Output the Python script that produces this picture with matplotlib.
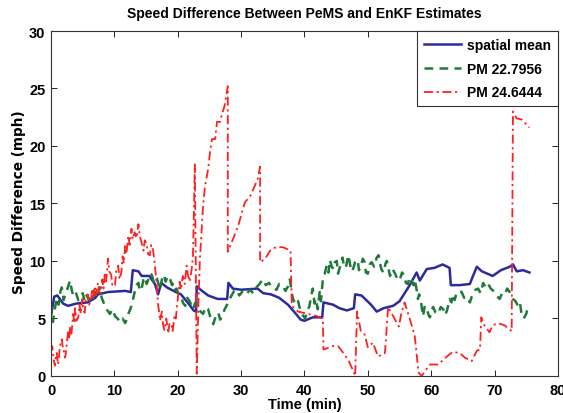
import matplotlib.pyplot as plt

plt.rcParams['font.family'] = ['Liberation Sans', 'DejaVu Sans']
plt.rcParams['font.weight'] = 'bold'

# spatial mean
t_mean = [0, 0.5, 1.0, 1.9, 2.7, 4, 5.8, 7.0, 7.4, 9, 11.7, 12.6, 12.9, 13.8, 14.3, 15.5,
          16.4, 16.9, 17.4, 18.3, 19.7, 20.5, 21.7, 22.5, 22.9, 23.0, 23.6, 24.8, 26.3,
          27.8, 28.0, 28.7, 30, 32.6, 33.5, 34.7, 36, 37.4, 38.5, 39.4, 40, 41.3, 42.8,
          43.0, 44.5, 45.5, 46.7, 47.8, 48.0, 49, 50.5, 51.4, 52.5, 54, 55, 56.5, 57.7,
          58.2, 59.3, 60.5, 61.8, 62.9, 63.1, 64.5, 66.1, 66.6, 67.2, 68, 69.7, 71, 72.4,
          72.9, 73.5, 74.5, 75.5]
v_mean = [5.2, 6.9, 7.0, 6.3, 6.1, 6.3, 6.4, 6.8, 7.1, 7.3, 7.4, 7.3, 9.2, 9.1, 8.7, 8.7,
          8.0, 7.1, 8.1, 7.7, 7.3, 7.1, 6.3, 5.7, 5.6, 7.8, 7.5, 7.0, 6.7,
          6.7, 8.1, 7.6, 7.5, 7.6, 7.2, 7.1, 6.8, 6.2, 5.5, 4.9, 4.8, 5.1, 5.1,
          6.4, 6.2, 5.9, 5.7, 5.9, 7.1, 7.0, 6.2, 5.6, 5.9, 6.1, 6.5, 7.8, 9.0,
          8.3, 9.3, 9.4, 9.7, 9.4, 7.9, 7.9, 8.0, 8.7, 9.5, 9.1, 8.7, 9.2, 9.5,
          9.7, 9.1, 9.2, 9.0]

# PM 22.7956
t_pm1 = [0, 0.3, 0.6, 0.9, 1.2, 1.5, 1.7, 2.0, 2.2, 2.6, 3.0, 3.3, 3.5, 3.9, 4.3, 4.6,
         5.0, 5.3, 5.6, 6.0, 6.3, 6.6, 7.0, 7.3, 7.7, 8.0, 8.5, 8.9, 9.3, 9.7, 10.1,
         10.5, 10.9, 11.3, 11.7, 12.0, 12.2, 12.5, 12.7, 13.0, 13.2, 13.5, 13.8, 14.0,
         14.3, 14.6, 14.8, 15.1, 15.3, 15.6, 15.9, 16.2, 16.5, 16.7, 17.0, 17.2, 17.5,
         17.8, 18.1, 18.4, 18.8, 19.1, 19.3, 19.6, 19.8, 20.2, 20.6, 20.9, 21.2, 21.5,
         21.9, 22.2, 22.4, 22.8, 23.2, 23.6, 24.0, 24.4, 24.8, 25.2, 25.6, 26.0, 26.4,
         26.7, 27.0, 27.4, 27.7, 28.1, 28.5, 28.9, 29.3, 29.7, 30.3, 30.8, 31.4, 31.9,
         32.4, 32.9, 33.4, 33.9, 34.4, 35.0, 35.6, 36.0, 36.5, 37.0, 37.4, 37.7, 38.0,
         38.2, 38.6, 39.0, 39.3, 39.7, 40.1, 40.4, 40.8, 41.0, 41.3, 41.6, 41.8, 42.1,
         42.4, 42.6, 42.9, 43.2, 43.5, 43.8, 44.0, 44.3, 44.6, 44.8, 45.1, 45.3, 45.5,
         45.8, 46.0, 46.3, 46.6, 46.9, 47.1, 47.4, 47.6, 48.0, 48.4, 48.6, 48.9, 49.2,
         49.5, 49.7, 50.0, 50.3, 50.6, 51.0, 51.4, 51.7, 52.0, 52.2, 52.5, 52.8, 53.0,
         53.3, 53.5, 53.9, 54.3, 54.6, 55.0, 55.4, 55.8, 56.0, 56.3, 56.6, 56.9, 57.2,
         57.4, 57.7, 57.9, 58.1, 58.4, 58.7, 59.0, 59.3, 59.6, 59.8, 60.1, 60.3, 60.7,
         61.1, 61.5, 61.9, 62.2, 62.5, 62.9, 63.2, 63.4, 63.7, 63.9, 64.3, 64.8, 65.2,
         65.6, 66.1, 66.4, 66.6, 67.0, 67.4, 67.8, 68.2, 68.6, 69.0, 69.4, 69.8, 70.3,
         70.8, 71.2, 71.6, 72.0, 72.4, 72.9, 73.3, 73.7, 74.0, 74.2, 74.6, 75.0, 75.3,
         75.5]
v_pm1 = [6.2, 4.7, 5.8, 6.8, 6.2, 7.4, 7.7, 6.6, 7.0, 7.6, 8.3, 7.4, 7.0, 7.3, 6.6, 6.7,
         7.2, 6.5, 7.0, 6.6, 7.1, 6.8, 7.3, 6.9, 7.7, 6.8, 6.1, 5.7, 5.4, 5.8, 5.2,
         5.0, 4.7, 5.0, 4.6, 5.0, 5.4, 5.8, 6.1, 6.8, 7.3, 7.9, 8.1, 7.4,
         7.6, 8.4, 8.6, 8.0, 8.3, 8.9, 8.8, 8.2, 8.6, 8.5, 7.9, 7.5, 8.4,
         8.8, 8.2, 8.7, 8.4, 7.9, 8.1, 7.5, 7.6, 7.0, 6.7, 6.3, 6.1, 6.8,
         6.5, 6.0, 5.8, 6.4, 6.1, 5.6, 5.4, 6.0, 5.8, 5.0, 4.5, 5.2, 5.5,
         4.9, 5.2, 5.8, 6.1, 6.6, 7.0, 7.4, 7.5, 7.0, 7.4, 7.1, 7.5, 7.2,
         7.7, 8.0, 8.4, 7.9, 8.1, 7.6, 7.5, 8.0, 7.9, 7.4, 7.8, 8.4, 7.2,
         6.7, 6.2, 6.5, 5.8, 5.3, 5.0, 5.6, 6.1, 6.8, 7.6, 6.3, 6.7, 5.8,
         7.3, 6.5, 8.4, 8.9, 9.6, 9.0, 10.1, 9.5, 9.3, 9.9, 10.0, 8.9, 9.3,
         9.8, 10.3, 9.4, 9.6, 10.5, 10.0, 9.1, 9.2, 9.9, 10.1, 9.2, 9.5, 10.2,
         9.9, 9.0, 8.9, 9.7, 9.9, 9.5, 10.3, 10.5, 9.6, 9.2, 9.0, 9.8, 10.0,
         9.2, 8.7, 9.3, 8.9, 8.5, 8.3, 9.0, 8.7, 8.1, 8.0, 8.6, 8.3, 7.9,
         8.4, 7.5, 6.7, 7.1, 6.4, 5.2, 6.1, 5.8, 5.3, 5.1, 5.8, 6.0, 5.5,
         5.4, 6.0, 5.8, 5.3, 5.7, 6.7, 6.4, 7.1, 6.6, 7.0, 7.4, 7.3, 6.8,
         6.9, 6.4, 6.9, 7.1, 7.5, 7.6, 7.2, 8.1, 7.7, 8.0, 7.6, 7.4, 7.0,
         6.7, 7.2, 7.1, 7.6, 7.3, 6.7, 6.5, 6.1, 6.4, 5.6, 5.0, 5.4, 6.1,
         6.0]

# PM 24.6444
t_pm2 = [0, 0.2, 0.4, 0.6, 0.8, 0.9, 1.1, 1.2, 1.4, 1.7, 1.9, 2.0, 2.2, 2.3, 2.5, 2.7,
         2.9, 3.0, 3.2, 3.5, 3.7, 3.8, 4.0, 4.3, 4.5, 4.7, 4.9, 5.1, 5.3, 5.5, 5.8,
         6.0, 6.3, 6.5, 6.7, 6.9, 7.1, 7.4, 7.6, 7.9, 8.1, 8.3, 8.5, 8.7, 9.0, 9.2,
         9.5, 9.7, 10.1, 10.3, 10.6, 10.8, 11.1, 11.3, 11.5, 11.7, 11.9, 12.2, 12.4,
         12.7, 12.9, 13.2, 13.5, 13.8, 14.0, 14.3, 14.6, 14.8, 15.1, 15.3, 15.6, 15.8,
         16.1, 16.4, 16.7, 16.9, 17.1, 17.2, 17.5, 17.7, 17.9, 18.2, 18.5, 18.7, 19.0,
         19.2, 19.5, 19.7, 20.0, 20.3, 20.5, 20.8, 21.1, 21.4, 21.6, 21.9, 22.2, 22.4,
         22.7, 23.0, 23.3, 23.5, 24.0, 24.3, 24.8, 25.1, 25.4, 25.9, 26.2, 26.7, 26.9,
         27.4, 27.9, 27.9, 28.5, 29.5, 30.6, 31.5, 32.6, 33.0, 33.0, 33.8, 34.7, 35.5,
         36.6, 37.8, 38.0, 39.0, 40.5, 41.5, 42.4, 42.9, 43.0, 44.5, 45.3, 46.0, 47.0,
         47.8, 48.0, 48.3, 48.9, 49.5, 50.0, 50.8, 51.6, 52.7, 53.2, 53.7, 54.9, 55.3,
         55.8, 56.6, 57.4, 58.0, 58.5, 59.0, 59.8, 61.1, 61.9, 62.7, 63.4, 64.5, 65.3,
         66.4, 67.2, 67.7, 67.9, 68.4, 69.2, 69.7, 70.5, 71.6, 72.7, 72.9, 73.5, 74.3,
         75.5]
v_pm2 = [2.2, 2.6, 1.5, 0.9, 1.8, 2.0, 1.0, 1.3, 2.6, 3.2, 2.3, 2.3, 1.6, 1.8, 2.9, 3.8,
         3.2, 4.2, 3.5, 5.4, 4.6, 5.9, 4.8, 5.1, 6.2, 5.4, 6.7, 5.8, 5.5, 6.6, 7.1,
         6.2, 6.5, 7.6, 6.9, 7.8, 7.0, 8.1, 7.3, 7.2, 8.4, 7.6, 9.0, 8.2, 10.2, 9.1,
         8.8, 7.8, 7.9, 9.2, 9.6, 8.4, 9.0, 10.4, 9.8, 11.3, 10.6, 12.2, 11.4,
         12.8, 11.9, 12.5, 12.0, 13.2, 12.2, 11.6, 10.9, 11.8, 11.5, 10.6, 10.5, 11.4,
         11.0, 9.6, 7.8, 6.2, 5.4, 4.8, 5.6, 4.4, 4.0, 5.0, 3.7, 4.6, 4.5,
         3.9, 5.3, 5.0, 6.7, 8.2, 7.5, 8.7, 8.0, 9.6, 8.8, 8.2, 9.3, 10.4,
         18.4, 0.2, 7.0, 10.2, 14.8, 16.5, 18.0, 19.5, 20.6, 20.6, 22.1, 22.1, 22.6,
         23.5, 25.2, 10.8, 11.6, 13.0, 15.1, 15.7, 17.1, 18.2, 9.9, 10.2, 11.0, 11.2,
         11.2, 10.9, 6.1, 5.6, 5.4, 5.3, 5.1, 5.0, 2.3, 2.6, 2.6, 2.1, 1.3,
         0.3, 0.0, 5.6, 3.9, 3.6, 2.5, 2.9, 1.7, 2.0, 6.0, 5.5, 4.3, 5.5,
         6.4, 5.0, 3.5, 0.3, 0.0, 0.4, 1.0, 1.0, 1.4, 1.8, 2.1, 2.0, 1.6,
         1.3, 2.2, 2.3, 5.1, 4.4, 3.8, 4.4, 4.6, 4.4, 3.9, 23.0, 22.4, 22.3,
         21.6]

fig = plt.figure(figsize=(5.63, 4.14), dpi=100)
ax = fig.add_axes([0.0906, 0.0894, 0.9004, 0.8333])

ax.plot(t_mean, v_mean, '-', color='#2b2b9c', lw=1.8, label='spatial mean')
ax.plot(t_pm1, v_pm1, '--', color='#1f7a3a', lw=1.8, dashes=(3.5, 2.5), label='PM 22.7956')
ax.plot(t_pm2, v_pm2, '-.', color='#ff2020', lw=1.3, dashes=(5, 2, 1.2, 2), label='PM 24.6444')

ax.set_xlim(0, 80)
ax.set_ylim(0, 30)
ax.set_xticks(range(0, 81, 10))
ax.set_yticks(range(0, 31, 5))
ax.tick_params(direction='in', top=True, right=True, labelsize=10.5, length=4, width=0.6)
ax.tick_params(axis='x', pad=5)
ax.tick_params(axis='y', pad=4)
for s in ax.spines.values():
    s.set_linewidth(0.8)
    s.set_color('#333333')

ax.set_title('Speed Difference Between PeMS and EnKF Estimates', fontsize=10,
             fontweight='bold', pad=10)
ax.set_xlabel('Time (min)', fontsize=10.5, fontweight='bold', labelpad=0)
ax.set_ylabel('Speed Difference (mph)', fontsize=9.8, fontweight='bold',
              family='DejaVu Sans')
ax.yaxis.set_label_coords(-0.05, 0.507)

leg = ax.legend(loc='upper right', borderaxespad=0, fancybox=False, fontsize=10,
                handlelength=2.7, handletextpad=0.4, framealpha=1, borderpad=0.5,
                labelspacing=0.7)
leg.get_frame().set_edgecolor('#333333')
leg.get_frame().set_linewidth(0.8)

fig.savefig('out.png', dpi=100)
